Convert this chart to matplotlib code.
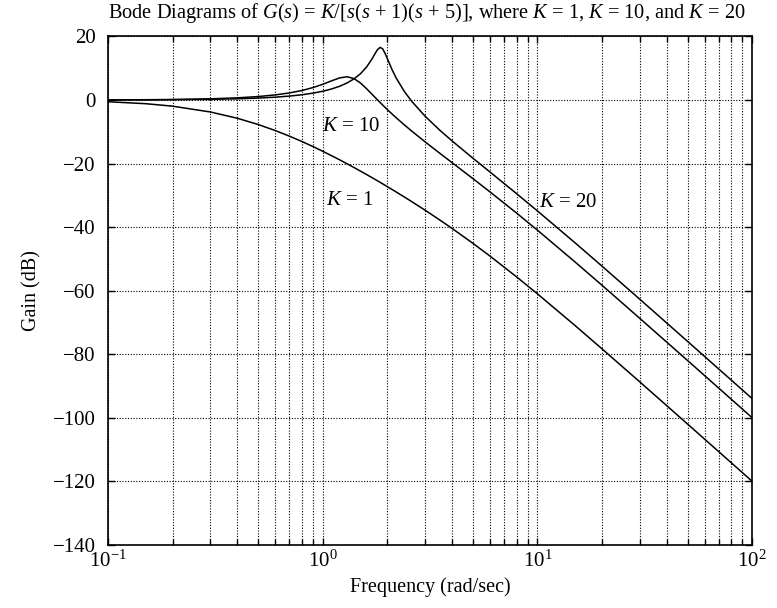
import matplotlib
matplotlib.use("Agg")
import matplotlib.pyplot as plt
from matplotlib.ticker import LogLocator, FixedLocator

# frequency (rad/sec) and closed-loop gain (dB)
freq = [0.1, 0.15, 0.2, 0.3, 0.4, 0.5, 0.6, 0.7, 0.8, 0.9, 1.0, 1.1, 1.2, 1.3,
        1.4, 1.5, 1.6, 1.7, 1.75, 1.8, 1.85, 1.9, 1.95, 2.0, 2.1, 2.2, 2.4,
        2.6, 3.0, 3.5, 4, 5, 6, 8, 10, 15, 20, 30, 50, 70, 100]
gain_k1 = [-0.54, -1.16, -1.94, -3.77, -5.74, -7.70, -9.59, -11.38, -13.06,
           -14.64, -16.13, -17.53, -18.84, -20.09, -21.27, -22.39, -23.45,
           -24.47, -24.96, -25.44, -25.91, -26.37, -26.83, -27.27, -28.13,
           -28.96, -30.53, -32.00, -34.70, -37.71, -40.40, -45.08, -49.08,
           -55.68, -61.01, -71.04, -78.34, -88.75, -101.98, -110.73, -120.01]
gain_k10 = [0.04, 0.09, 0.17, 0.38, 0.68, 1.09, 1.60, 2.23, 2.99, 3.91, 4.95,
            6.04, 6.97, 7.32, 6.73, 5.34, 3.57, 1.76, 0.88, 0.04, -0.77,
            -1.55, -2.30, -3.01, -4.35, -5.60, -7.83, -9.80, -13.18, -16.70,
            -19.70, -24.71, -28.87, -35.60, -40.97, -51.03, -58.33, -68.75,
            -81.98, -90.73, -100.01]
gain_k20 = [0.02, 0.05, 0.09, 0.21, 0.38, 0.61, 0.89, 1.24, 1.65, 2.16, 2.76,
            3.48, 4.34, 5.39, 6.68, 8.29, 10.37, 13.02, 14.52, 15.87, 16.57,
            16.14, 14.76, 13.01, 9.66, 6.89, 2.69, -0.45, -5.12, -9.43,
            -12.85, -18.28, -22.61, -29.49, -34.91, -45.00, -52.31, -62.73,
            -75.96, -84.71, -93.99]

curve_labels = ["$K$ = 10", "$K$ = 1", "$K$ = 20"]
label_freq = [1.36, 1.34, 13.9]
label_gain = [-8.2, -31.5, -32.3]

yticks = list(range(-140, 21, 20))

plt.rcParams["font.family"] = ["Liberation Serif", "DejaVu Serif"]
plt.rcParams["mathtext.fontset"] = "custom"
plt.rcParams["mathtext.rm"] = "Liberation Serif"
plt.rcParams["mathtext.it"] = "Liberation Serif:italic"

fig = plt.figure(figsize=(7.77, 6.08), dpi=100)
ax = fig.add_axes([0.139, 0.104, 0.829, 0.836])

for g in (gain_k1, gain_k10, gain_k20):
    ax.plot(freq, g, color="black", lw=1.1)

for txt, fx, gy in zip(curve_labels, label_freq, label_gain):
    ax.text(fx, gy, txt, fontsize=15, ha="center", va="center")

ax.set_xscale("log")
ax.set_xlim(0.1, 100)
ax.set_ylim(-140, 20)
ax.yaxis.set_major_locator(FixedLocator(yticks))
ax.xaxis.set_major_locator(LogLocator(base=10))
ax.xaxis.set_minor_locator(LogLocator(base=10, subs=range(2, 10)))

ax.grid(True, which="major", color="black", ls=(0, (1, 1.5)), lw=0.8)
ax.grid(True, which="minor", axis="x", color="black", ls=(0, (1, 1.5)), lw=0.8)
ax.tick_params(which="both", direction="in", top=True, right=True,
               labelsize=15, color="black")
ax.tick_params(axis="y", pad=9)
ax.tick_params(axis="x", pad=4)
ax.tick_params(which="major", length=5, width=1)
ax.tick_params(which="minor", length=4, width=1)
for s in ax.spines.values():
    s.set_linewidth(1.2)

ax.set_xlabel("Frequency (rad/sec)", fontsize=14.5, labelpad=4)
ax.set_ylabel("Gain (dB)", fontsize=14.5, labelpad=8)
fig.text(0.139, 0.979,
         "Bode Diagrams of $G$($s$) = $K$/[$s$($s$ + 1)($s$ + 5)], where "
         "$K$ = 1, $K$ = 10, and $K$ = 20",
         fontsize=14.7, ha="left", va="center")

fig.savefig("out.png", dpi=100)
